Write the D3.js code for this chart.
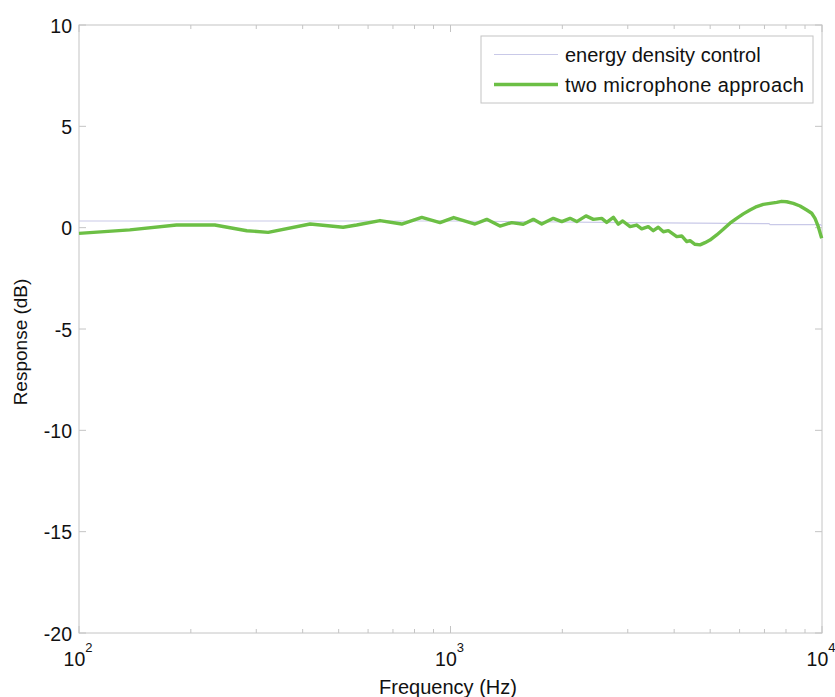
<!DOCTYPE html>
<html>
<head>
<meta charset="utf-8">
<script src="https://cdn.jsdelivr.net/npm/d3@7"></script>
<style>
  body { margin: 0; background: #fff; }
  text { font-family: "Liberation Sans", Arial, Helvetica, sans-serif; fill: #111; }
</style>
</head>
<body>
<div id="chart"></div>
<script>

// energy density control (flat reference line)
let refFreq = [100, 1000, 3000, 7200, 7250, 9900, 10000];
let refDb = [0.33, 0.33, 0.25, 0.2, 0.15, 0.15, 0.1];

// two microphone approach
let micFreq = [100, 137, 183, 232, 283, 323, 419, 514, 559, 646, 739, 837, 937, 1020,
  1164, 1252, 1359, 1461, 1570, 1671, 1760, 1891, 1993, 2098, 2187, 2316, 2424, 2553,
  2633, 2744, 2830, 2908, 3043, 3171, 3271, 3407, 3515, 3625, 3740, 3858, 4064, 4192,
  4324, 4413, 4551, 4695, 4842, 4994, 5206, 5423, 5653, 5893, 6139, 6400, 6672, 6950,
  7244, 7551, 7789, 8035, 8370, 8726, 9096, 9382, 9576, 9773, 9980];
let micDb = [-0.28, -0.11, 0.13, 0.13, -0.15, -0.23, 0.18, 0.02, 0.13, 0.35, 0.18, 0.51, 0.25, 0.5,
  0.18, 0.41, 0.08, 0.25, 0.17, 0.41, 0.18, 0.46, 0.30, 0.46, 0.30, 0.58, 0.41, 0.46,
  0.26, 0.51, 0.17, 0.33, 0.05, 0.13, -0.06, 0.05, -0.15, 0.02, -0.2, -0.15, -0.44, -0.41,
  -0.69, -0.64, -0.82, -0.85, -0.74, -0.61, -0.36, -0.08, 0.22, 0.46, 0.68, 0.87, 1.04, 1.15,
  1.2, 1.25, 1.30, 1.28, 1.2, 1.07, 0.87, 0.71, 0.46, 0.05, -0.52];

let yTicks = [-20, -15, -10, -5, 0, 5, 10];
let xMajor = [100, 1000, 10000];
let xMinor = [200, 300, 400, 500, 600, 700, 800, 900, 2000, 3000, 4000, 5000, 6000, 7000, 8000, 9000];
let seriesNames = ["energy density control", "two microphone approach"];

let W = 835, H = 697;
let pLeft = 79, pRight = 822, pTop = 25, pBottom = 633;

let svg = d3.select("#chart").append("svg")
  .attr("width", W)
  .attr("height", H);

let x = d3.scaleLog().domain([100, 10000]).range([pLeft, pRight]);
let y = d3.scaleLinear().domain([-20, 10]).range([pBottom, pTop]);

let axisColor = "#c4c4c4";

// box
svg.append("rect")
  .attr("x", pLeft).attr("y", pTop)
  .attr("width", pRight - pLeft).attr("height", pBottom - pTop)
  .style("fill", "none").style("stroke", axisColor).style("stroke-width", 1);

// y ticks, both sides, pointing inward
function yTickMarks(selection, x0, dir) {
  selection.attr("x1", x0).attr("x2", x0 + dir * 7)
    .attr("y1", d => y(d)).attr("y2", d => y(d))
    .style("stroke", axisColor);
}
svg.selectAll(".ytl").data(yTicks).enter().append("line").call(yTickMarks, pLeft, 1);
svg.selectAll(".ytr").data(yTicks).enter().append("line").call(yTickMarks, pRight, -1);

svg.selectAll(".ylab").data(yTicks).enter().append("text")
  .attr("x", pLeft - 7)
  .attr("y", d => y(d) + 7.5)
  .attr("text-anchor", "end")
  .style("font-size", "19.5px")
  .text(d => d);

// x ticks, bottom and top
function xTickMarks(selection, y0, dir, len) {
  selection.attr("x1", d => x(d)).attr("x2", d => x(d))
    .attr("y1", y0).attr("y2", y0 + dir * len)
    .style("stroke", axisColor);
}
svg.selectAll(".xmb").data(xMajor).enter().append("line").call(xTickMarks, pBottom, -1, 7);
svg.selectAll(".xmt").data(xMajor).enter().append("line").call(xTickMarks, pTop, 1, 7);
svg.selectAll(".xnb").data(xMinor).enter().append("line").call(xTickMarks, pBottom, -1, 4);
svg.selectAll(".xnt").data(xMinor).enter().append("line").call(xTickMarks, pTop, 1, 4);

let xl = svg.selectAll(".xlab").data(xMajor).enter().append("text")
  .attr("x", d => x(d) - 1)
  .attr("y", pBottom + 33)
  .attr("text-anchor", "middle")
  .style("font-size", "19.5px");
xl.append("tspan").text("10");
xl.append("tspan")
  .attr("dy", -14)
  .style("font-size", "13px")
  .text(d => Math.round(Math.log10(d)));

// axis titles
svg.append("text")
  .attr("x", 448)
  .attr("y", 694)
  .attr("text-anchor", "middle")
  .style("font-size", "20px")
  .text("Frequency (Hz)");

svg.append("text")
  .attr("transform", "translate(27,342) rotate(-90)")
  .attr("text-anchor", "middle")
  .style("font-size", "19px")
  .text("Response (dB)");

// lines
let line = d3.line().x(d => x(d[0])).y(d => y(d[1]));

let g = svg.append("g");
g.append("path")
  .datum(refFreq.map((f, i) => [f, refDb[i]]))
  .attr("d", line)
  .style("fill", "none")
  .style("stroke", "#c9c9e8")
  .style("stroke-width", 1.2);

g.append("path")
  .datum(micFreq.map((f, i) => [f, micDb[i]]))
  .attr("d", line)
  .style("fill", "none")
  .style("stroke", "#6cbf45")
  .style("stroke-width", 3.4)
  .style("stroke-linejoin", "round");

// legend
let lg = svg.append("g");
lg.append("rect")
  .attr("x", 481).attr("y", 36)
  .attr("width", 332).attr("height", 67)
  .style("fill", "#fff")
  .style("stroke", axisColor);

let legendColors = ["#c9c9e8", "#6cbf45"];
let legendWidths = [1.2, 3.4];
let legendSpacing = [0, 0.4];
let rows = lg.selectAll(".lrow").data(seriesNames).enter().append("g")
  .attr("transform", (d, i) => "translate(0," + (54.5 + i * 30) + ")");
rows.append("line")
  .attr("x1", 494).attr("x2", 558)
  .attr("y1", 0).attr("y2", 0)
  .style("stroke", (d, i) => legendColors[i])
  .style("stroke-width", (d, i) => legendWidths[i]);
rows.append("text")
  .attr("x", 565).attr("y", 7.5)
  .style("font-size", "20px")
  .style("letter-spacing", (d, i) => legendSpacing[i] + "px")
  .text(d => d);

</script>
</body>
</html>
